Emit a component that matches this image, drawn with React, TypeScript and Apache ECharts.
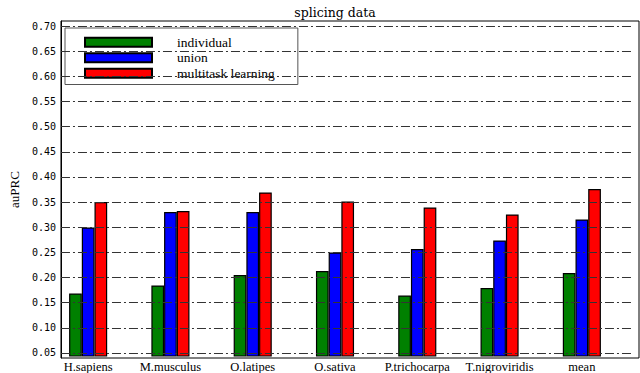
import React, { useEffect, useRef } from "react";
import * as echarts from "echarts";

const categories = ["H.sapiens", "M.musculus", "O.latipes", "O.sativa", "P.trichocarpa", "T.nigroviridis", "mean"];
const individual = [0.165, 0.181, 0.202, 0.210, 0.161, 0.176, 0.206];
const union = [0.297, 0.328, 0.328, 0.247, 0.254, 0.271, 0.313];
const multitask = [0.348, 0.330, 0.367, 0.349, 0.337, 0.323, 0.374];
const yTicks = [0.05, 0.1, 0.15, 0.2, 0.25, 0.3, 0.35, 0.4, 0.45, 0.5, 0.55, 0.6, 0.65, 0.7];
const seriesNames = ["individual", "union", "multitask learning"];
const seriesColors = ["#008000", "#0000ff", "#ff0000"];

export default function App() {
  const ref = useRef<HTMLDivElement>(null);
  useEffect(() => {
    const chart = echarts.init(ref.current!, undefined, { renderer: "svg" });
    const serif = "'Liberation Serif', 'DejaVu Serif', serif";
    const dserif = "'DejaVu Serif', serif";
    const values = [individual, union, multitask];
    const isTick = (v: number) => yTicks.some((t) => Math.abs(t - v) < 1e-6);
    const yRange = { min: 0.04, max: 0.71 };
    const gridLineEnd = 0.987;
    chart.setOption({
      animation: false,
      backgroundColor: "#ffffff",
      title: {
        text: "splicing data",
        left: 330,
        textAlign: "center",
        top: 1,
        textStyle: { fontFamily: dserif, fontSize: 12.5, fontWeight: "normal", color: "#000" },
      },
      legend: {
        orient: "vertical",
        left: 65,
        top: 28,
        padding: [7, 23, 4, 19],
        itemWidth: 67,
        itemHeight: 9,
        itemGap: 1,
        backgroundColor: "#ffffff",
        borderColor: "#555",
        borderWidth: 1,
        borderRadius: 0,
        textStyle: { fontFamily: serif, fontSize: 13.5, lineHeight: 14.5, color: "#000", padding: [0, 0, 0, 20] },
        data: seriesNames.map((n) => ({ name: n, icon: "rect" })),
      },
      grid: [
        { left: 47, right: 17, top: 21, bottom: 15, show: false },
        {
          left: 40,
          right: 1,
          top: 21,
          bottom: 15,
          show: true,
          borderColor: "#000",
          borderWidth: 1,
          backgroundColor: "transparent",
        },
      ],
      xAxis: [
        {
          gridIndex: 0,
          type: "category",
          data: categories,
          axisLine: { show: false },
          axisTick: { show: false },
          splitLine: { show: false },
          axisLabel: { margin: 4, fontFamily: serif, fontSize: 12.5, color: "#000", interval: 0 },
        },
        {
          gridIndex: 1,
          type: "value",
          min: 0,
          max: 1,
          show: false,
        },
      ],
      yAxis: [
        {
          gridIndex: 0,
          type: "value",
          ...yRange,
          interval: 0.01,
          show: false,
          splitLine: { show: false },
        },
        {
          gridIndex: 1,
          type: "value",
          ...yRange,
          interval: 0.01,
          name: "auPRC",
          nameLocation: "middle",
          nameGap: 29,
          nameTextStyle: { fontFamily: serif, fontSize: 13, color: "#000" },
          axisLine: { show: true, lineStyle: { color: "#000", width: 1 } },
          axisTick: { show: false },
          axisLabel: {
            margin: 5,
            fontFamily: "'DejaVu Sans Mono', monospace",
            fontSize: 10,
            color: "#000",
            formatter: (v: number) => (isTick(v) ? v.toFixed(2) : ""),
          },
          splitLine: { show: false },
        },
      ],
      series: [
        {
          name: "gridlines",
          type: "line",
          xAxisIndex: 1,
          yAxisIndex: 1,
          data: [],
          z: 1,
          silent: true,
          markLine: {
            silent: true,
            symbol: "none",
            animation: false,
            label: { show: false },
            lineStyle: { color: "#333", width: 1, type: [9, 3, 2, 3] },
            data: yTicks.map((t) => [
              { coord: [0, t] },
              { coord: [gridLineEnd, t] },
            ]),
          },
        },
        ...seriesNames.map((name, si) => ({
          name,
          type: "bar",
          xAxisIndex: 0,
          yAxisIndex: 0,
          z: 3,
          barWidth: 12.7,
          barGap: "0%",
          itemStyle: { color: seriesColors[si], borderColor: "#000", borderWidth: 1.2 },
          data: values[si],
        })),
      ],
    });
    return () => chart.dispose();
  }, []);
  return <div ref={ref} style={{ width: 640, height: 373, position: "absolute", left: 0, top: 0 }} />;
}
